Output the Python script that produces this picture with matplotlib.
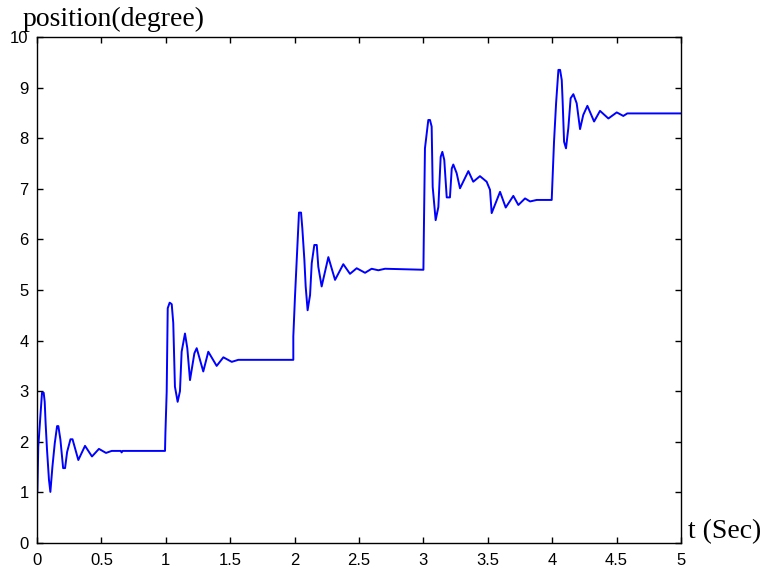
import numpy as np
import matplotlib.pyplot as plt

# valeurs, une liste par echelon
t1 = [0.0, 0.0, 0.003, 0.010, 0.030, 0.039, 0.052, 0.060, 0.067, 0.078, 0.093, 0.104, 0.120, 0.138,
      0.156, 0.166, 0.182, 0.203, 0.218, 0.234, 0.260, 0.276, 0.321, 0.373, 0.427, 0.481, 0.536,
      0.580, 0.650, 0.657, 0.665, 0.990]
y1 = [0.0, 1.01, 1.01, 1.90, 2.63, 2.97, 2.97, 2.79, 2.37, 1.84, 1.25, 1.01, 1.51, 1.97,
      2.31, 2.31, 2.04, 1.48, 1.48, 1.80, 2.05, 2.05, 1.64, 1.92, 1.71, 1.86, 1.78,
      1.82, 1.82, 1.79, 1.82, 1.82]

t2 = [0.994, 0.997, 1.007, 1.015, 1.030, 1.046, 1.058, 1.071, 1.092, 1.110, 1.123, 1.149, 1.167,
      1.188, 1.222, 1.240, 1.291, 1.330, 1.395, 1.447, 1.512, 1.563, 1.990]
y2 = [1.82, 2.17, 2.99, 4.64, 4.75, 4.72, 4.35, 3.09, 2.79, 3.00, 3.78, 4.14, 3.85,
      3.22, 3.75, 3.85, 3.39, 3.78, 3.50, 3.67, 3.58, 3.62, 3.62]

t3 = [1.990, 2.003, 2.021, 2.034, 2.050, 2.060, 2.076, 2.086, 2.101, 2.120, 2.133, 2.153, 2.172,
      2.184, 2.210, 2.262, 2.314, 2.378, 2.430, 2.482, 2.547, 2.598, 2.650, 2.702, 3.000]
y3 = [4.08, 4.87, 5.82, 6.53, 6.53, 6.22, 5.59, 5.07, 4.60, 4.90, 5.53, 5.89, 5.89,
      5.46, 5.07, 5.65, 5.20, 5.51, 5.32, 5.43, 5.34, 5.42, 5.39, 5.42, 5.40]

t4 = [3.003, 3.012, 3.038, 3.051, 3.064, 3.072, 3.095, 3.116, 3.134, 3.147, 3.162, 3.181, 3.206,
      3.220, 3.232, 3.258, 3.284, 3.349, 3.387, 3.439, 3.491, 3.517, 3.530, 3.595, 3.639, 3.698,
      3.737, 3.789, 3.828, 3.880, 3.996]
y4 = [6.05, 7.80, 8.36, 8.36, 8.23, 7.04, 6.38, 6.64, 7.63, 7.73, 7.57, 6.83, 6.83,
      7.40, 7.48, 7.31, 7.01, 7.35, 7.14, 7.25, 7.14, 6.98, 6.52, 6.94, 6.63, 6.86,
      6.68, 6.81, 6.75, 6.78, 6.78]

t5 = [4.004, 4.014, 4.030, 4.048, 4.061, 4.074, 4.081, 4.092, 4.107, 4.125, 4.143, 4.164, 4.190,
      4.216, 4.241, 4.273, 4.325, 4.371, 4.436, 4.501, 4.552, 4.583, 5.0]
y5 = [7.27, 7.93, 8.69, 9.35, 9.35, 9.15, 8.72, 7.93, 7.80, 8.20, 8.79, 8.87, 8.69,
      8.18, 8.46, 8.64, 8.33, 8.54, 8.39, 8.51, 8.44, 8.49, 8.49]

t = np.concatenate([t1, t2, t3, t4, t5])
y = np.concatenate([y1, y2, y3, y4, y5])

xticks = np.arange(0, 5.01, 0.5)
xlabels = ['0', '0.5', '1', '1.5', '2', '2.5', '3', '3.5', '4', '4.5', '5']

fig = plt.figure(figsize=(7.64, 5.72), dpi=100)
ax = fig.add_axes([0.0484, 0.0507, 0.8430, 0.8846])

ax.plot(t, y, color='#0000ff', lw=1.4)

ax.set_xlim(0, 5)
ax.set_ylim(0, 10)
ax.set_xticks(xticks)
ax.set_xticklabels(xlabels)
ax.set_yticks(range(0, 11))
ax.tick_params(direction='in', top=True, right=True, length=4, width=1,
               labelsize=12, pad=6)
ax.tick_params(axis='x', pad=7)
for lab in ax.get_xticklabels() + ax.get_yticklabels():
    lab.set_family('Liberation Sans')
for s in ax.spines.values():
    s.set_linewidth(1.0)

fig.text(0.030, 0.9545, 'position(degree)', family='Liberation Serif', fontsize=20,
         ha='left', va='baseline')
fig.text(0.900, 0.0594, 't (Sec)', family='Liberation Serif', fontsize=20,
         ha='left', va='baseline')

plt.savefig('out.png', dpi=100)
